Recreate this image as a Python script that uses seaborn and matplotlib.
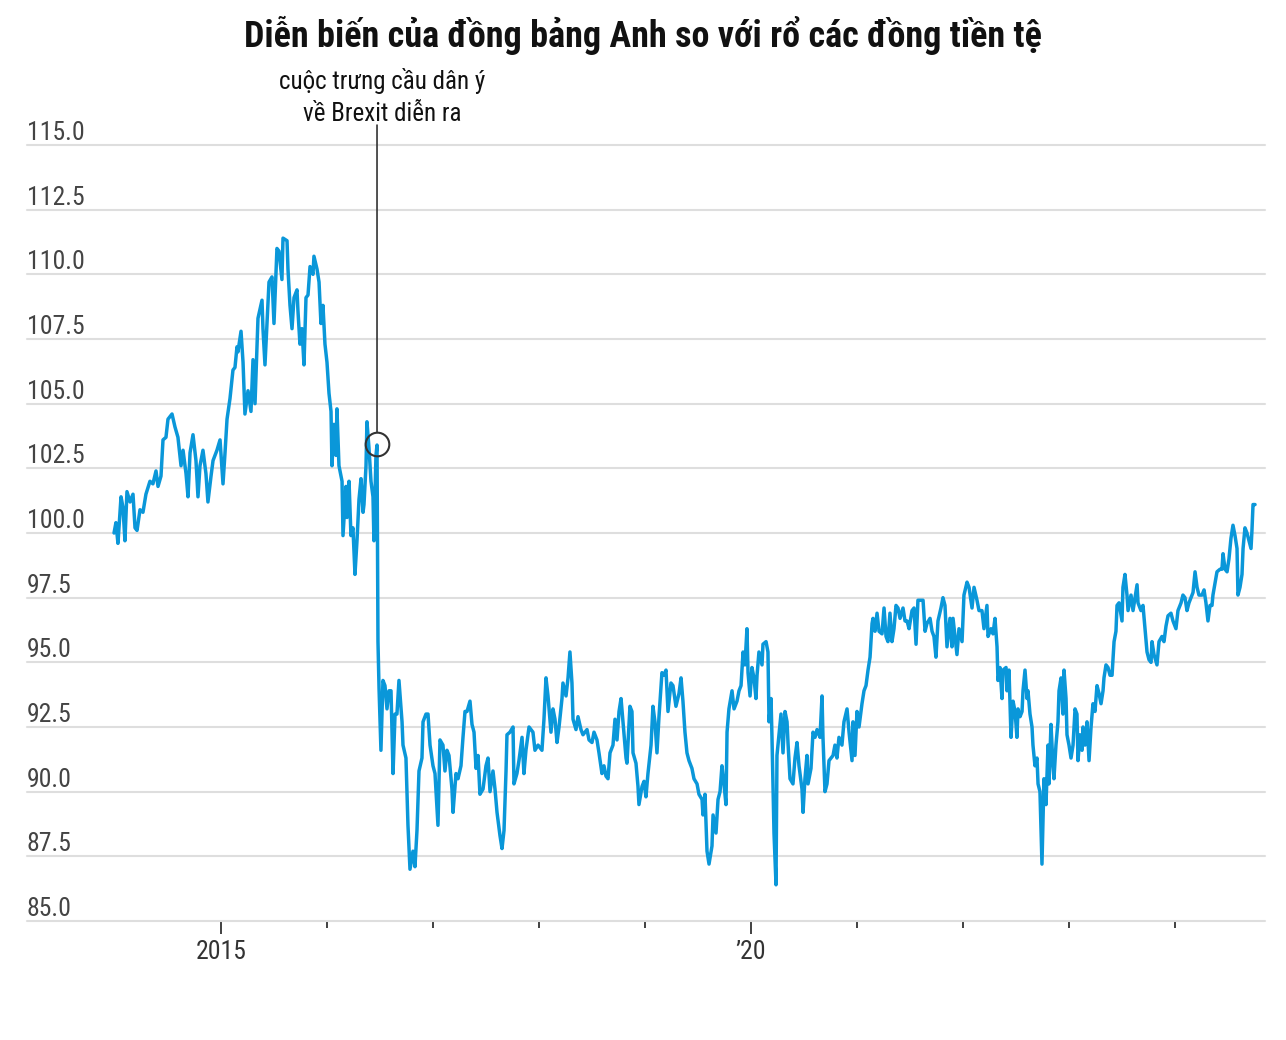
import matplotlib
matplotlib.use("Agg")
import matplotlib.pyplot as plt
import matplotlib.transforms as mtransforms
import seaborn as sns

# GBP trade-weighted index (x = decimal year)
years = [
    # 2014
    2013.991, 2014.009, 2014.028, 2014.057, 2014.075, 2014.094, 2014.113, 2014.142, 2014.170, 2014.189,
    2014.208, 2014.236, 2014.264, 2014.292, 2014.330, 2014.358, 2014.387, 2014.406, 2014.434, 2014.453,
    2014.481, 2014.500, 2014.538, 2014.566, 2014.594, 2014.623, 2014.642, 2014.670, 2014.689, 2014.708,
    2014.736, 2014.764, 2014.783, 2014.802, 2014.830, 2014.858, 2014.877, 2014.906, 2014.925, 2014.962,
    2014.991,
    # 2015
    2015.019, 2015.038, 2015.057, 2015.085, 2015.113, 2015.132, 2015.151, 2015.160, 2015.189, 2015.208,
    2015.226, 2015.255, 2015.283, 2015.302, 2015.321, 2015.349, 2015.387, 2015.396, 2015.415, 2015.434,
    2015.453, 2015.481, 2015.500, 2015.528, 2015.547, 2015.575, 2015.585, 2015.623, 2015.632, 2015.651,
    2015.670, 2015.689, 2015.717, 2015.726, 2015.745, 2015.764, 2015.783, 2015.802, 2015.821, 2015.840,
    2015.868, 2015.877, 2015.906, 2015.925, 2015.943, 2015.962, 2015.981,
    # 2016
    2016.000, 2016.019, 2016.038, 2016.047, 2016.066, 2016.085, 2016.094, 2016.113, 2016.142, 2016.151,
    2016.179, 2016.189, 2016.208, 2016.226, 2016.245, 2016.264, 2016.283, 2016.302, 2016.321, 2016.340,
    2016.349, 2016.368, 2016.377, 2016.396, 2016.415, 2016.434, 2016.443, 2016.462, 2016.472, 2016.481,
    2016.491, 2016.509, 2016.528, 2016.547, 2016.566, 2016.585, 2016.604, 2016.623, 2016.642, 2016.660,
    2016.679, 2016.708, 2016.717, 2016.745, 2016.764, 2016.783, 2016.811, 2016.830, 2016.849, 2016.868,
    2016.896, 2016.906, 2016.934, 2016.953, 2016.972,
    # 2017
    2017.000, 2017.019, 2017.047, 2017.066, 2017.094, 2017.113, 2017.132, 2017.151, 2017.179, 2017.189,
    2017.217, 2017.236, 2017.264, 2017.283, 2017.302, 2017.321, 2017.349, 2017.368, 2017.387, 2017.406,
    2017.425, 2017.443, 2017.472, 2017.500, 2017.519, 2017.538, 2017.566, 2017.585, 2017.604, 2017.632,
    2017.651, 2017.670, 2017.689, 2017.698, 2017.726, 2017.755, 2017.764, 2017.792, 2017.811, 2017.840,
    2017.858, 2017.877, 2017.906, 2017.943, 2017.962,
    # 2018
    2017.991, 2018.028, 2018.047, 2018.066, 2018.085, 2018.113, 2018.132, 2018.151, 2018.170, 2018.189,
    2018.217, 2018.226, 2018.255, 2018.274, 2018.292, 2018.311, 2018.321, 2018.349, 2018.368, 2018.396,
    2018.415, 2018.453, 2018.472, 2018.500, 2018.519, 2018.547, 2018.566, 2018.594, 2018.613, 2018.632,
    2018.651, 2018.670, 2018.698, 2018.717, 2018.736, 2018.755, 2018.774, 2018.792, 2018.821, 2018.830,
    2018.858, 2018.877, 2018.887, 2018.915, 2018.934, 2018.943, 2018.972,
    # 2019
    2018.991, 2019.009, 2019.028, 2019.057, 2019.075, 2019.094, 2019.113, 2019.132, 2019.160, 2019.179,
    2019.198, 2019.217, 2019.245, 2019.264, 2019.292, 2019.321, 2019.340, 2019.358, 2019.377, 2019.396,
    2019.415, 2019.443, 2019.462, 2019.491, 2019.509, 2019.538, 2019.547, 2019.566, 2019.585, 2019.604,
    2019.632, 2019.642, 2019.670, 2019.689, 2019.708, 2019.726, 2019.745, 2019.764, 2019.774, 2019.792,
    2019.821, 2019.840, 2019.868, 2019.887, 2019.906, 2019.925, 2019.943, 2019.962, 2019.972, 2019.991,
    # 2020
    2020.009, 2020.028, 2020.047, 2020.057, 2020.075, 2020.104, 2020.113, 2020.142, 2020.160, 2020.170,
    2020.189, 2020.198, 2020.217, 2020.236, 2020.245, 2020.264, 2020.283, 2020.302, 2020.321, 2020.340,
    2020.349, 2020.368, 2020.396, 2020.415, 2020.434, 2020.453, 2020.481, 2020.491, 2020.509, 2020.528,
    2020.538, 2020.566, 2020.585, 2020.604, 2020.623, 2020.651, 2020.670, 2020.679, 2020.698, 2020.717,
    2020.736, 2020.774, 2020.792, 2020.811, 2020.830, 2020.858, 2020.877, 2020.906, 2020.925, 2020.953,
    2020.962, 2020.981,
    # 2021
    2021.000, 2021.019, 2021.047, 2021.066, 2021.085, 2021.104, 2021.123, 2021.142, 2021.151, 2021.170,
    2021.189, 2021.208, 2021.236, 2021.255, 2021.274, 2021.292, 2021.311, 2021.330, 2021.349, 2021.368,
    2021.387, 2021.406, 2021.434, 2021.453, 2021.472, 2021.491, 2021.519, 2021.538, 2021.557, 2021.575,
    2021.604, 2021.623, 2021.642, 2021.660, 2021.689, 2021.708, 2021.726, 2021.745, 2021.764, 2021.792,
    2021.811, 2021.830, 2021.849, 2021.877, 2021.896, 2021.906, 2021.925, 2021.943, 2021.962,
    # 2022
    2021.991, 2022.009, 2022.038, 2022.057, 2022.085, 2022.104, 2022.132, 2022.151, 2022.179, 2022.198,
    2022.226, 2022.236, 2022.264, 2022.283, 2022.302, 2022.321, 2022.330, 2022.349, 2022.368, 2022.377,
    2022.406, 2022.415, 2022.434, 2022.453, 2022.472, 2022.491, 2022.509, 2022.519, 2022.538, 2022.557,
    2022.566, 2022.585, 2022.604, 2022.613, 2022.632, 2022.651, 2022.660, 2022.679, 2022.698, 2022.708,
    2022.726, 2022.736, 2022.745, 2022.764, 2022.783, 2022.802, 2022.811, 2022.830, 2022.849, 2022.858,
    2022.877, 2022.896, 2022.906, 2022.925, 2022.943, 2022.953, 2022.972, 2022.981,
    # 2023
    2023.000, 2023.019, 2023.038, 2023.057, 2023.075, 2023.085, 2023.104, 2023.123, 2023.132, 2023.151,
    2023.170, 2023.189, 2023.208, 2023.226, 2023.245, 2023.264, 2023.283, 2023.302, 2023.321, 2023.330,
    2023.349, 2023.368, 2023.387, 2023.406, 2023.425, 2023.443, 2023.453, 2023.472, 2023.500, 2023.509,
    2023.528, 2023.547, 2023.557, 2023.585, 2023.604, 2023.623, 2023.642, 2023.651, 2023.679, 2023.698,
    2023.717, 2023.736, 2023.755, 2023.774, 2023.783, 2023.802, 2023.830, 2023.849, 2023.877, 2023.896,
    2023.915, 2023.934, 2023.962, 2023.981,
    # 2024
    2024.009, 2024.028, 2024.057, 2024.075, 2024.094, 2024.113, 2024.132, 2024.160, 2024.170, 2024.189,
    2024.208, 2024.226, 2024.255, 2024.274, 2024.292, 2024.311, 2024.330, 2024.349, 2024.358, 2024.387,
    2024.396, 2024.425, 2024.443, 2024.453, 2024.472, 2024.491, 2024.509, 2024.528, 2024.547, 2024.566,
    2024.585, 2024.594, 2024.613, 2024.632, 2024.642, 2024.660, 2024.679, 2024.698, 2024.717, 2024.726,
    2024.736, 2024.755,
]

gbp_index = [
    # 2014
    100.0, 100.4, 99.6, 101.4, 101.0, 99.7, 101.6, 101.2, 101.5, 100.2,
    100.1, 100.9, 100.8, 101.5, 102.0, 101.9, 102.4, 101.8, 102.2, 103.6,
    103.7, 104.4, 104.6, 104.1, 103.7, 102.6, 103.2, 102.3, 101.4, 103.1,
    103.8, 102.8, 101.4, 102.6, 103.2, 102.3, 101.2, 102.2, 102.8, 103.2,
    103.6,
    # 2015
    101.9, 103.1, 104.4, 105.2, 106.3, 106.4, 107.2, 107.0, 107.8, 106.6,
    104.6, 105.5, 104.7, 106.7, 105.0, 108.3, 109.0, 107.9, 106.5, 108.1,
    109.7, 109.9, 108.1, 111.0, 110.9, 109.8, 111.4, 111.3, 110.2, 108.8,
    107.9, 109.1, 109.4, 108.6, 107.3, 107.9, 106.5, 109.1, 109.2, 110.3,
    110.0, 110.7, 110.2, 109.7, 108.1, 108.8, 107.3,
    # 2016
    106.6, 105.4, 104.7, 102.6, 104.2, 103.0, 104.8, 102.6, 102.0, 99.9,
    101.8, 100.6, 102.0, 99.9, 100.2, 98.4, 99.7, 101.3, 102.1, 100.8,
    101.1, 102.6, 104.3, 103.3, 102.0, 101.4, 99.7, 103.0, 103.4, 95.8,
    94.0, 91.6, 94.3, 94.1, 93.2, 93.9, 93.9, 90.7, 93.0, 93.0,
    94.3, 92.7, 91.8, 91.3, 88.7, 87.0, 87.7, 87.1, 88.5, 90.8,
    91.3, 92.7, 93.0, 93.0, 91.8,
    # 2017
    91.0, 90.7, 88.7, 92.0, 91.8, 90.8, 91.6, 91.4, 90.1, 89.2,
    90.7, 90.5, 91.0, 92.1, 93.1, 93.1, 93.5, 92.6, 92.3, 90.9,
    91.4, 89.9, 90.1, 91.0, 91.3, 90.0, 90.8, 90.1, 89.2, 88.3,
    87.8, 88.5, 90.8, 92.2, 92.3, 92.5, 90.3, 90.7, 91.2, 92.1,
    90.7, 91.6, 92.5, 92.3, 91.6,
    # 2018
    91.8, 91.6, 92.8, 94.4, 93.7, 92.3, 93.2, 92.8, 91.9, 92.5,
    93.6, 94.2, 93.7, 94.4, 95.4, 94.2, 92.8, 92.4, 92.9, 92.4,
    92.2, 92.4, 92.0, 91.9, 92.3, 92.0, 91.5, 90.7, 91.0, 90.6,
    90.5, 91.5, 91.8, 92.8, 92.0, 93.1, 93.6, 92.7, 91.3, 91.1,
    93.3, 93.1, 91.5, 91.1, 90.2, 89.5, 90.2,
    # 2019
    90.4, 89.8, 90.7, 91.8, 93.3, 92.7, 91.5, 92.9, 94.6, 94.5,
    94.7, 93.1, 94.2, 94.1, 93.3, 93.8, 94.4, 93.5, 92.3, 91.5,
    91.2, 90.9, 90.5, 90.3, 89.9, 89.7, 89.1, 89.9, 87.7, 87.2,
    87.9, 89.1, 88.4, 89.7, 90.0, 91.0, 90.3, 89.5, 92.3, 93.2,
    93.9, 93.2, 93.5, 93.9, 94.1, 95.4, 94.9, 96.3, 94.6, 93.7,
    # 2020
    94.8, 94.4, 93.6, 94.5, 95.4, 94.9, 95.7, 95.8, 95.4, 92.7,
    93.6, 92.1, 88.4, 86.4, 91.4, 92.2, 93.0, 91.5, 93.1, 92.7,
    91.9, 90.5, 90.3, 91.3, 91.9, 91.0, 90.1, 89.2, 90.5, 91.4,
    90.3, 90.9, 92.3, 92.1, 92.4, 92.1, 93.7, 92.1, 90.0, 90.3,
    91.2, 91.4, 91.8, 91.3, 92.1, 91.8, 92.7, 93.2, 92.3, 91.2,
    92.7, 91.4,
    # 2021
    93.1, 92.5, 93.4, 93.9, 94.1, 94.7, 95.2, 96.5, 96.7, 96.2,
    96.9, 96.2, 96.1, 97.1, 96.0, 95.8, 96.9, 95.8, 96.3, 97.2,
    97.1, 96.7, 97.1, 96.6, 96.6, 96.3, 97.0, 97.1, 95.7, 97.4,
    97.4, 97.4, 96.2, 96.5, 96.7, 96.2, 96.0, 95.2, 96.6, 97.1,
    97.5, 97.2, 95.6, 96.7, 95.6, 96.7, 96.0, 95.3, 96.3,
    # 2022
    95.8, 97.6, 98.1, 97.9, 97.1, 97.9, 97.4, 97.0, 97.0, 96.3,
    97.2, 96.0, 96.3, 96.1, 96.7, 95.6, 94.3, 94.8, 93.6, 94.7,
    94.8, 93.9, 94.7, 92.1, 93.5, 93.1, 92.1, 93.2, 92.9, 93.1,
    93.9, 94.7, 93.6, 93.9, 93.0, 92.5, 91.8, 91.0, 91.3, 90.3,
    90.0, 88.6, 87.2, 90.5, 89.5, 91.8, 90.3, 92.6, 91.0, 90.5,
    91.8, 92.7, 93.9, 94.4, 93.0, 94.7, 93.6, 92.2,
    # 2023
    91.8, 91.3, 91.8, 93.2, 93.0, 91.2, 92.2, 91.6, 92.5, 91.8,
    92.7, 91.2, 92.5, 93.4, 93.1, 94.1, 93.8, 93.4, 93.9, 94.4,
    94.9, 94.8, 94.5, 94.5, 95.8, 96.2, 97.2, 97.3, 96.6, 97.9,
    98.4, 97.6, 97.0, 97.6, 97.0, 97.5, 98.0, 97.3, 97.0, 97.2,
    96.3, 95.4, 95.1, 95.0, 95.8, 95.3, 94.9, 95.8, 96.0, 95.8,
    96.4, 96.8, 96.9, 96.6,
    # 2024
    96.3, 97.0, 97.3, 97.6, 97.5, 97.0, 97.3, 97.6, 97.7, 98.5,
    97.9, 97.6, 97.6, 97.8, 97.3, 96.6, 97.2, 97.2, 97.6, 98.3,
    98.5, 98.6, 98.6, 99.2, 98.6, 98.5, 99.0, 99.8, 100.3, 99.9,
    99.4, 97.6, 97.9, 98.4, 99.4, 100.2, 100.0, 99.7, 99.4, 100.1,
    101.1, 101.1,
]

y_ticks = [85.0, 87.5, 90.0, 92.5, 95.0, 97.5, 100.0, 102.5, 105.0, 107.5, 110.0, 112.5, 115.0]
major_years = [2015, 2020]
major_labels = ["2015", "\u201920"]
minor_years = [2016, 2017, 2018, 2019, 2021, 2022, 2023, 2024]

title = "Diễn biến của đồng bảng Anh so với rổ các đồng tiền tệ"
note = "cuộc trưng cầu dân ý\nvề Brexit diễn ra"
brexit_year = 2016.472
brexit_value = 103.45

line_color = "#0a97d9"
grid_color = "#dedede"
text_color = "#333333"

sns.set_theme(style="white")
plt.rcParams["font.family"] = ["Roboto Condensed", "DejaVu Sans"]

fig = plt.figure(figsize=(12.86, 10.4), dpi=100)
ax = fig.add_axes([27 / 1286, 1 - 921 / 1040, (1265 - 27) / 1286, (921 - 145) / 1040])

sns.lineplot(x=years, y=gbp_index, estimator=None, sort=False,
             color=line_color, linewidth=2.5, ax=ax, zorder=3)

ax.set_xlim(2013.170, 2024.849)
ax.set_ylim(85, 115)
for s in ax.spines.values():
    s.set_visible(False)

# horizontal grid + labels sitting above each gridline
ax.set_yticks(y_ticks)
ax.yaxis.grid(True, color=grid_color, linewidth=1.5, clip_on=False)
ax.tick_params(axis="y", length=0, labelleft=False)
trans = mtransforms.offset_copy(
    mtransforms.blended_transform_factory(ax.transAxes, ax.transData),
    fig=fig, x=0, y=5, units="dots")
for v in y_ticks:
    ax.text(0, v, f"{v:.1f}", transform=trans, ha="left", va="baseline",
            fontsize=18.5, color="#444444")

# x ticks: year marks, only 2015 and '20 labelled
ax.set_xticks(major_years)
ax.set_xticklabels(major_labels)
ax.set_xticks(minor_years, minor=True)
ax.tick_params(axis="x", which="major", bottom=True, length=9, width=1.3,
               color=text_color, labelsize=18.5, labelcolor=text_color, pad=5)
ax.tick_params(axis="x", which="minor", bottom=True, length=5, width=1.3,
               color=text_color)
ax.set_xlabel("")
ax.set_ylabel("")

# Brexit referendum annotation
ax.plot(brexit_year, brexit_value, marker="o", markersize=17, mfc="none",
        mec=text_color, mew=1.5, zorder=5)
ax.annotate("", xy=(brexit_year, brexit_value), xytext=(brexit_year, 115.77),
            arrowprops=dict(arrowstyle="-", color=text_color, lw=1.2,
                            shrinkA=0, shrinkB=8.6),
            annotation_clip=False, zorder=4)
ax.annotate(note, xy=(brexit_year, 115), xytext=(4, 14), textcoords="offset points",
            ha="center", va="bottom", fontsize=18, color="#111111",
            linespacing=1.4, annotation_clip=False)

fig.text(0.5, 1 - 35 / 1040, title, ha="center", va="center",
         fontsize=26, fontweight="bold", color="#111111")

fig.savefig("out.png", dpi=100, facecolor="white")
